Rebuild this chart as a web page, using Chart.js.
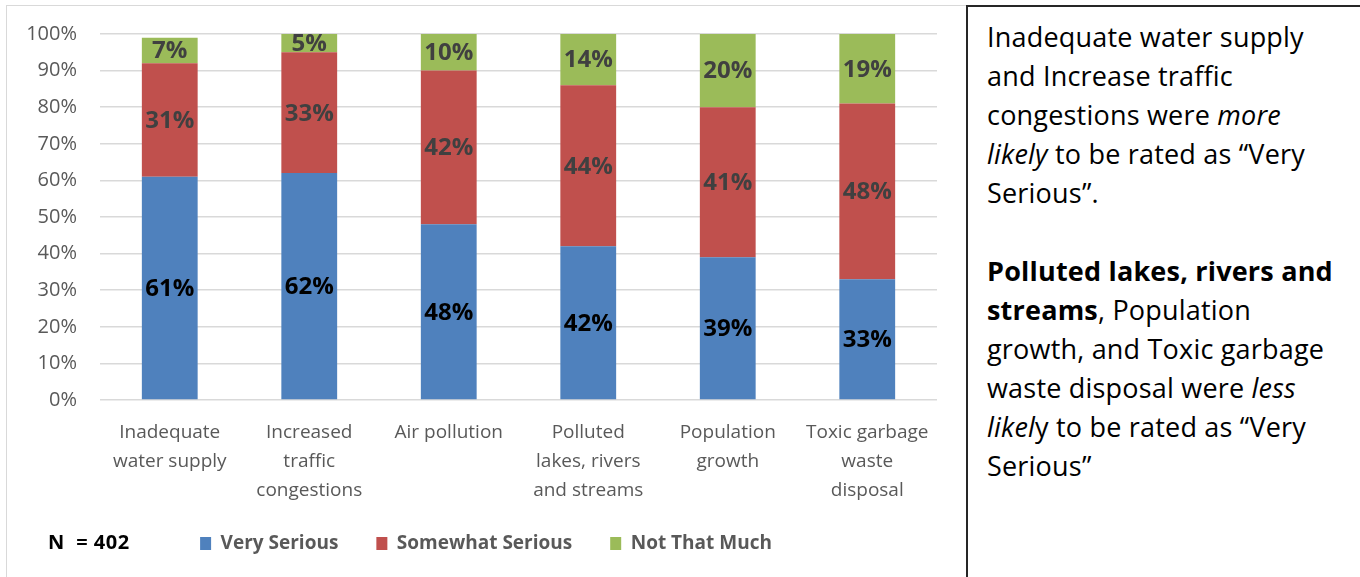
<!DOCTYPE html>
<html>
<head>
<meta charset="utf-8">
<script src="https://cdn.jsdelivr.net/npm/chart.js@4"></script>
<style>
    body { margin: 0; background: #fff; width: 1360px; height: 577px; overflow: hidden; position: relative; font-family: "Open Sans", sans-serif; }
    .chart-frame { position: absolute; left: 6px; top: 5px; width: 960px; height: 600px; border-left: 1px solid #d9d9d9; border-top: 1px solid #d9d9d9; }
    .chart-frame canvas { position: absolute; left: 0; top: 0; }
    .n-label { position: absolute; left: 48px; top: 528px; font-weight: bold; font-size: 20px; letter-spacing: 0.5px; color: #000; white-space: pre; }
    .note-box { position: absolute; left: 966px; top: 5px; width: 420px; height: 620px; border: 2px solid #262626; box-sizing: border-box; }
    .note-box p { margin: 0; padding: 10px 0 0 19px; font-size: 27px; letter-spacing: 0.2px; line-height: 39px; color: #000; white-space: nowrap; }
    .note-box p + p { padding-top: 39px; }
</style>
</head>
<body>
<div class="chart-frame">
    <canvas id="issuesChart" width="958" height="571"></canvas>
</div>
<div class="n-label">N  = 402</div>
<div class="note-box">
    <p>Inadequate water supply<br>and Increase traffic<br>congestions were <i>more</i><br><i>likely</i> to be rated as “Very<br>Serious”.</p>
    <p><b>Polluted lakes, rivers and<br>streams</b>, Population<br>growth, and Toxic garbage<br>waste disposal were <i>less</i><br><i>likel</i>y to be rated as “Very<br>Serious”</p>
</div>

<script>
// categories (multi-line x labels)
const categories = [
    ['Inadequate', 'water supply'],
    ['Increased', 'traffic', 'congestions'],
    ['Air pollution'],
    ['Polluted', 'lakes, rivers', 'and streams'],
    ['Population', 'growth'],
    ['Toxic garbage', 'waste', 'disposal']
];

// percentages per rating
const verySerious = [61, 62, 48, 42, 39, 33];
const somewhatSerious = [31, 33, 42, 44, 41, 48];
const notThatMuch = [7, 5, 10, 14, 20, 19];

const yTicks = [0, 10, 20, 30, 40, 50, 60, 70, 80, 90, 100];

// writes the value in the middle of each bar segment
const segmentLabels = {
    id: 'segmentLabels',
    afterDatasetsDraw(chart) {
        const ctx = chart.ctx;
        ctx.save();
        ctx.font = 'bold 24px "Open Sans"';
        ctx.textAlign = 'center';
        ctx.textBaseline = 'middle';
        chart.data.datasets.forEach((ds, i) => {
            const meta = chart.getDatasetMeta(i);
            ctx.fillStyle = ds.labelColor;
            meta.data.forEach((bar, j) => {
                const cy = (bar.y + bar.base) / 2;
                ctx.fillText(ds.data[j] + '%', bar.x, cy + 1);
            });
        });
        ctx.restore();
    }
};

// nudge the legend right and up, like the original sits under the plot
const legendShift = {
    id: 'legendShift',
    afterLayout(chart) {
        if (chart.legend) {
            chart.legend.left += 14;
            chart.legend.right += 14;
            chart.legend.top -= 14;
            chart.legend.bottom -= 14;
        }
    }
};

new Chart(document.getElementById('issuesChart'), {
    type: 'bar',
    data: {
        labels: categories,
        datasets: [
            { label: 'Very Serious', data: verySerious, backgroundColor: '#4f81bd', labelColor: '#000000' },
            { label: 'Somewhat Serious', data: somewhatSerious, backgroundColor: '#c0504d', labelColor: '#404040' },
            { label: 'Not That Much', data: notThatMuch, backgroundColor: '#9bbb59', labelColor: '#404040' }
        ]
    },
    options: {
        responsive: false,
        animation: false,
        datasets: { bar: { categoryPercentage: 1, barPercentage: 0.4 } },
        layout: { padding: { top: 28, left: 0, right: 28, bottom: 0 } },
        plugins: {
            tooltip: { enabled: false },
            legend: {
                position: 'bottom',
                labels: {
                    boxWidth: 11,
                    boxHeight: 13,
                    padding: 38,
                    color: '#595959',
                    font: { family: '"Open Sans"', size: 19, weight: 'bold' }
                }
            }
        },
        scales: {
            x: {
                stacked: true,
                grid: { display: false, drawTicks: false },
                border: { display: false },
                ticks: {
                    color: '#595959',
                    padding: 18,
                    maxRotation: 0,
                    font: { family: '"Open Sans"', size: 19, lineHeight: 1.53 }
                },
                afterFit(scale) { scale.height = 110; }
            },
            y: {
                stacked: true,
                min: 0,
                max: 100,
                grid: { color: '#d9d9d9', lineWidth: 1.5, drawTicks: false },
                border: { display: false },
                afterBuildTicks(scale) { scale.ticks = yTicks.map(v => ({ value: v })); },
                ticks: {
                    color: '#595959',
                    padding: 23,
                    font: { family: '"Open Sans"', size: 20 },
                    callback: v => v + '%'
                },
                afterFit(scale) {
                    scale.width = 93;
                    // tick padding would otherwise push the plot top down
                    scale.paddingTop = 12;
                    scale.paddingBottom = 12;
                }
            }
        }
    },
    plugins: [segmentLabels, legendShift]
});
</script>
</body>
</html>
